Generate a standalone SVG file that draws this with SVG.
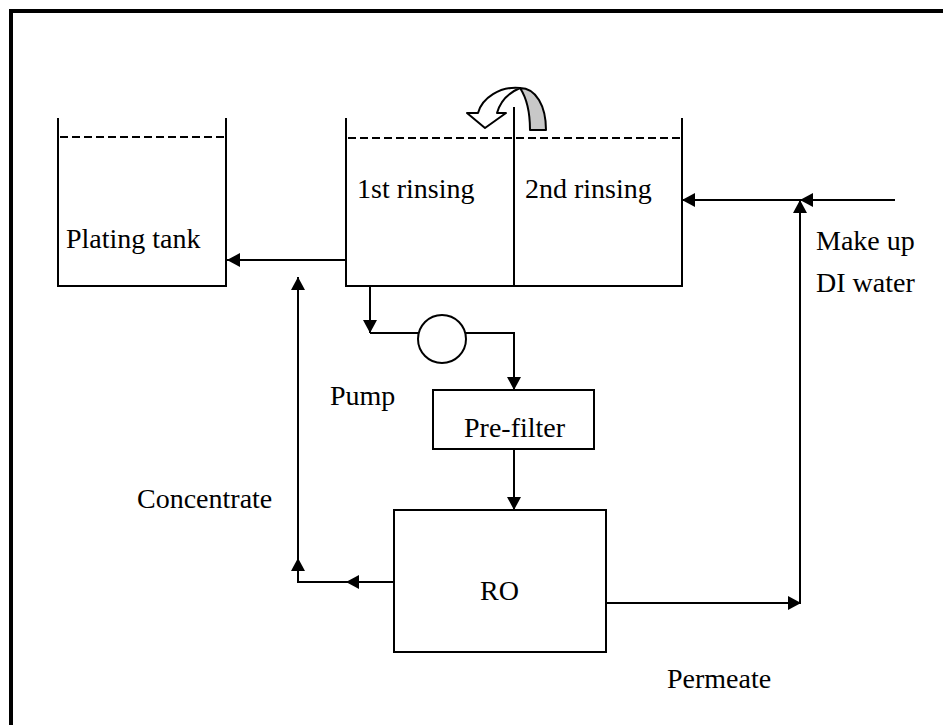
<svg xmlns="http://www.w3.org/2000/svg" width="943" height="725" viewBox="0 0 943 725">
<defs>
<marker id="ah" markerWidth="14" markerHeight="14" refX="13" refY="7" orient="auto" markerUnits="userSpaceOnUse">
<path d="M0,0 L13,7 L0,14 Z" fill="#000"/>
</marker>
<style>
.ln{fill:none;stroke:#000;stroke-width:2}
.cn{fill:none;stroke:#000;stroke-width:2;marker-end:url(#ah)}
.dash{fill:none;stroke:#000;stroke-width:2;stroke-dasharray:8 4}
.box{fill:#fff;stroke:#000;stroke-width:2}
text{font-family:"Liberation Serif","Times New Roman",serif;font-size:28px;fill:#000}
</style>
</defs>
<rect width="943" height="725" fill="#fff"/>
<path d="M11,725 L11,11 L943,11" fill="none" stroke="#000" stroke-width="4"/>

<g id="plating-tank">
<path class="ln" d="M58,118 L58,286 L226,286 L226,118"/>
<line class="dash" x1="60" y1="137" x2="224" y2="137"/>
<text x="66" y="248">Plating tank</text>
</g>

<g id="rinse-tank">
<path class="ln" d="M346,118 L346,286 L682,286 L682,118"/>
<line class="ln" x1="514" y1="107" x2="514" y2="286"/>
<line class="dash" x1="348" y1="138" x2="680" y2="138"/>
<text x="357" y="198">1st rinsing</text>
<text x="525" y="198">2nd rinsing</text>
</g>

<g id="overflow-arrow">
<path d="M520,88 C536,88 546,106 546,130 L530,130 C530,112 526,97 520,88 Z" fill="#c8c8c8" stroke="#000" stroke-width="2" stroke-linejoin="round"/>
<path d="M520,88 C500,86 482,98 478,113 L467,113 L485,128 L506,113 L497,113 C500,102 508,93 520,88 Z" fill="#fff" stroke="#000" stroke-width="2" stroke-linejoin="round"/>
</g>

<g id="pump">
<circle cx="442" cy="339" r="24" class="box"/>
<text x="330" y="405">Pump</text>
</g>

<g id="pre-filter">
<rect x="433" y="390" width="161" height="59" class="box"/>
<text x="464" y="437">Pre-filter</text>
</g>

<g id="ro">
<rect x="394" y="510" width="212" height="142" class="box"/>
<text x="480" y="600">RO</text>
</g>

<g id="labels">
<text x="137" y="508">Concentrate</text>
<text x="667" y="688">Permeate</text>
<text x="816" y="250">Make up</text>
<text x="816" y="292">DI water</text>
</g>

<g id="connectors">
<path class="cn" d="M346,260 L227,260"/>
<path class="cn" d="M370,286 L370,333"/>
<path class="ln" d="M370,333 L418,333"/>
<path class="cn" d="M466,333 L514,333 L514,390"/>
<path class="cn" d="M514,449 L514,510"/>
<path class="cn" d="M394,582 L346,582"/>
<path class="cn" d="M350,582 L298,582 L298,558"/>
<path class="cn" d="M298,560 L298,277"/>
<path class="cn" d="M606,603 L801,603"/>
<path class="cn" d="M800,603 L800,200"/>
<path class="cn" d="M895,200 L800,200"/>
<path class="cn" d="M800,200 L682,200"/>
</g>
</svg>
